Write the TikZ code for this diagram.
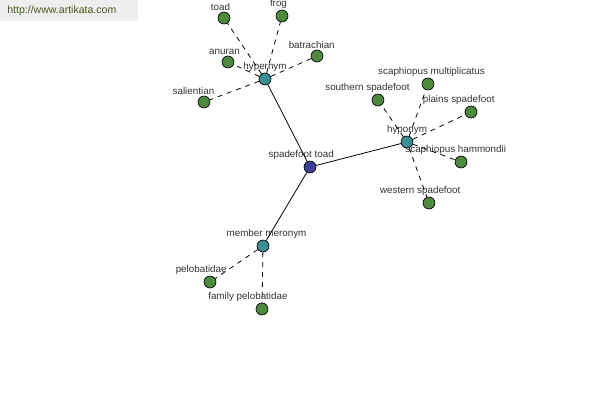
\documentclass[tikz,border=0pt]{standalone}
\usepackage{fontspec}
\setmainfont{Liberation Sans}
\usepackage{tikz}
\definecolor{leafgreen}{RGB}{78,138,62}
\definecolor{reltel}{RGB}{58,142,148}
\definecolor{rootblue}{RGB}{62,62,152}
\definecolor{sitegray}{RGB}{238,238,238}
\definecolor{siteolive}{RGB}{70,90,30}
\tikzset{%
	word/.style     = {draw, circle, inner sep=0pt, minimum size=6.8pt, fill=rootblue}, % Root word
	relation/.style = {draw, circle, inner sep=0pt, minimum size=6.8pt, fill=reltel}, % Relation
	leaf/.style     = {draw, circle, inner sep=0pt, minimum size=6.8pt, fill=leafgreen}, % Leaf
	tag/.style      = {font=\fontsize{5.6}{6}\selectfont, text=black!80, inner sep=0.3pt},
	solidlink/.style = {draw, line width=0.45pt},
	dashlink/.style  = {draw, line width=0.45pt, dash pattern=on 2.8pt off 2.8pt}
}
\begin{document}
\begin{tikzpicture}[x=0.02cm,y=-0.02cm,every label/.style={tag},label distance=0pt]
	
	\useasboundingbox (0,0) rectangle (600,400);
	\fill[sitegray] (0,0) rectangle (138,21);
	\node[anchor=west, text=siteolive, font=\fontsize{6}{7}\selectfont, inner sep=0pt] at (7,11) (site) {http://www.artikata.com};
	
	\node[word,label={[xshift=-5]above:spadefoot toad}] at (310,167) (toad0) {};
	\node[relation,label={above:hypernym}] at (265,79) (hyper) {};
	\node[relation,label={above:hyponym}] at (407,142) (hypo) {};
	\node[relation,label={[xshift=2]above:member meronym}] at (263,246) (mero) {};
	
	\node[leaf,label={[xshift=-2]above:toad}] at (224,18) (toad) {};
	\node[leaf,label={[xshift=-2]above:frog}] at (282,16) (frog) {};
	\node[leaf,label={[xshift=-2]above:anuran}] at (228,62) (anuran) {};
	\node[leaf,label={[xshift=-3]above:batrachian}] at (317,56) (batrachian) {};
	\node[leaf,label={[xshift=-6]above:salientian}] at (204,102) (salientian) {};
	
	\node[leaf,label={[xshift=2]above:scaphiopus multiplicatus}] at (428,84) (multi) {};
	\node[leaf,label={[xshift=-6]above:southern spadefoot}] at (378,100) (southern) {};
	\node[leaf,label={[xshift=-7]above:plains spadefoot}] at (471,112) (plains) {};
	\node[leaf,label={[xshift=-3]above:scaphiopus hammondii}] at (461,162) (hammondii) {};
	\node[leaf,label={[xshift=-5]above:western spadefoot}] at (429,203) (western) {};
	
	\node[leaf,label={[xshift=-5]above:pelobatidae}] at (210,282) (pelo) {};
	\node[leaf,label={[xshift=-8]above:family pelobatidae}] at (262,309) (family) {};
	
	\draw[solidlink] (toad0) -- (hyper);
	\draw[solidlink] (toad0) -- (hypo);
	\draw[solidlink] (toad0) -- (mero);
	
	\draw[dashlink] (hyper) -- (toad);
	\draw[dashlink] (hyper) -- (frog);
	\draw[dashlink] (hyper) -- (anuran);
	\draw[dashlink] (hyper) -- (batrachian);
	\draw[dashlink] (hyper) -- (salientian);
	
	\draw[dashlink] (hypo) -- (multi);
	\draw[dashlink] (hypo) -- (southern);
	\draw[dashlink] (hypo) -- (plains);
	\draw[dashlink] (hypo) -- (hammondii);
	\draw[dashlink] (hypo) -- (western);
	
	\draw[dashlink] (mero) -- (pelo);
	\draw[dashlink] (mero) -- (family);
	
\end{tikzpicture}
\end{document}
